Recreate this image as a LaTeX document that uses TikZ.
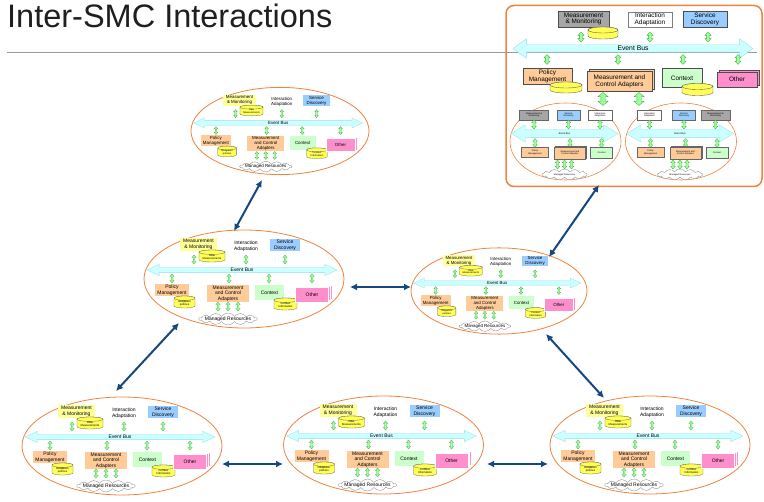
\documentclass[tikz,border=0pt]{standalone}
\usepackage{fontspec}
\setmainfont{Liberation Sans}
\usetikzlibrary{shapes.geometric,shapes.arrows,shapes.symbols,shadows,arrows.meta,calc}
\definecolor{mmY}{HTML}{FFFF99}
\definecolor{cylY}{HTML}{FFFF55}
\definecolor{sdB}{HTML}{99CCFF}
\definecolor{pmO}{HTML}{FFCC99}
\definecolor{cxG}{HTML}{CCFFCC}
\definecolor{otP}{HTML}{FF8FCC}
\definecolor{busC}{HTML}{CCFFFF}
\definecolor{busD}{HTML}{99DDEE}
\definecolor{garF}{HTML}{99FF99}
\definecolor{garD}{HTML}{44AA44}
\definecolor{orgE}{HTML}{F0823C}
\definecolor{connB}{RGB}{22,72,128}
\definecolor{mmG}{HTML}{A6A6A6}
\newcommand\fs[2]{\fontsize{#1}{#2}\selectfont}
\tikzset{
 tx/.style={inner sep=0pt, align=center, font=\fs{5}{5.6}},
 ubox/.style={tx, rectangle},
 uell/.style={ellipse, draw=orgE, line width=0.8pt, minimum width=200pt, minimum height=98pt, inner sep=0pt},
 cylst/.style={draw=black!60, fill=cylY, line width=0.3pt},
 cyltx/.style={font=\fs{2.8}{3.2}},
 gar/.style={double arrow, rotate=90, fill=garF, draw=garD, line width=0.25pt, inner sep=0pt, text height=1.5pt, text depth=0pt, minimum height=9pt, double arrow head extend=1.2pt, double arrow tip angle=80},
 ubus/.style={double arrow, fill=busC, draw=busD, line width=0.3pt, inner sep=0pt, double arrow tip angle=50, text height=4.3pt, text depth=0.7pt, double arrow head extend=3pt, font=\fs{5}{5.6}},
 ucloud/.style={cloud, cloud puffs=14, cloud puff arc=110, aspect=4.8, draw=gray, fill=white, line width=0.3pt, inner sep=0pt, minimum width=58pt, minimum height=12pt},
 uother/.style={ubox, fill=otP, draw=white, line width=0.3pt, double copy shadow={shadow xshift=1.6pt, shadow yshift=1.2pt}},
 conn/.style={draw=connB, line width=2pt, arrows={Latex[length=7pt,width=7pt]-Latex[length=7pt,width=7pt]}},
 ibox/.style={inner sep=0pt, align=center, font=\fs{6.4}{6.9}, draw=black!70, line width=0.4pt},
 igar/.style={double arrow, rotate=90, fill=garF, draw=garD, line width=0.3pt, inner sep=0pt, text height=2.5pt, text depth=0pt, minimum height=10pt, double arrow head extend=1.7pt, double arrow tip angle=85},
 igarB/.style={igar, text height=4pt, minimum height=13pt, double arrow head extend=3pt, double arrow tip angle=100},
 ibus/.style={double arrow, fill=busC, draw=busD, line width=0.4pt, inner sep=0pt, double arrow tip angle=72, text height=6pt, text depth=1pt, double arrow head extend=6pt, font=\fs{6.8}{7.5}},
 sell/.style={ellipse, draw=orgE, line width=0.6pt, minimum width=111pt, minimum height=77pt, inner sep=0pt},
 sbox/.style={inner sep=0pt, align=center, font=\fs{2.3}{2.7}, draw=black!60, line width=0.3pt},
 sgray/.style={fill=mmG, minimum width=29pt, minimum height=10pt},
 sblue/.style={fill=sdB, minimum width=23pt, minimum height=10pt},
 swhite/.style={fill=white, minimum width=24pt, minimum height=10pt},
 sgar/.style={double arrow, rotate=90, fill=garF, draw=garD, line width=0.25pt, inner sep=0pt, text height=2pt, text depth=0pt, minimum height=9pt, double arrow head extend=1.2pt, double arrow tip angle=80},
 sbus/.style={double arrow, fill=busC, draw=busD, line width=0.3pt, inner sep=0pt, double arrow tip angle=62, text height=4.9pt, text depth=3.1pt, double arrow head extend=4.5pt, font=\fs{2.5}{3}},
 scloud/.style={cloud, cloud puffs=13, cloud puff arc=110, aspect=4, draw=gray, fill=white, line width=0.3pt, inner sep=0pt, minimum width=45pt, minimum height=11pt},
}
% cylinder: name, x, y, w, h, r, text, text style
\newcommand\cylnode[8]{%
\pgfmathsetmacro\cylrx{#4/2}%
\path[cylst] ({#2-#4/2},{#3-#5/2+#6}) -- ({#2-#4/2},{#3+#5/2-#6}) arc[start angle=180,end angle=360,x radius=\cylrx pt,y radius=#6pt] -- ({#2+#4/2},{#3-#5/2+#6}) arc[start angle=0,end angle=180,x radius=\cylrx pt,y radius=#6pt] -- cycle;
\path[cylst] ({#2},{#3-#5/2+#6}) ellipse[x radius=\cylrx pt,y radius=#6pt];
\node[#8,inner sep=0pt,align=center,minimum width=#4pt,minimum height=#5pt] (#1) at ({#2},{#3+#6/2}) {#7};
}
\newcommand\smcunit[4]{%
\begin{scope}[shift={(#2,#3)},scale=#4,transform shape]
\node[uell] (#1) at (0,0) {};
\node[ubox,fill=mmY,minimum width=37pt,minimum height=13pt] (#1mm) at (-45.5,-34.5) {Measurement\\\& Monitoring};
\cylnode{#1rm}{-32}{-23}{26}{12}{2.2}{Raw\\Measurements}{cyltx}
\node[ubox] (#1ia) at (2,-33) {Interaction\\Adaptation};
\node[ubox,fill=sdB,minimum width=30pt,minimum height=12pt] (#1sd) at (41,-34) {Service\\Discovery};
\node[gar] (#1ta) at (-50,-19.5) {};
\node[gar] (#1tb) at (2,-19.5) {};
\node[gar] (#1tc) at (41,-19.5) {};
\node[ubus,minimum height=190pt] (#1bus) at (-2,-9) {Event Bus};
\node[gar] (#1ba) at (-72,-0.5) {};
\node[gar] (#1bb) at (-15,-0.5) {};
\node[gar] (#1bc) at (25,-0.5) {};
\node[gar] (#1bd) at (68,-0.5) {};
\node[ubox,fill=pmO,minimum width=34pt,minimum height=12pt] (#1pm) at (-72,11) {Policy\\Management};
\cylnode{#1op}{-59.5}{23}{21}{12}{2.2}{Obligation\\policies}{cyltx}
\node[ubox,fill=pmO,minimum width=42pt,minimum height=17pt] (#1mc) at (-16,14.5) {Measurement\\and Control\\Adapters};
\node[gar] (#1ca) at (-26,27.5) {};
\node[gar] (#1cb) at (-16,27.5) {};
\node[gar] (#1cc) at (-6,27.5) {};
\node[ucloud,label={[tx]center:Managed Resources}] (#1mr) at (-16,40) {};
\node[ubox,fill=cxG,minimum width=29pt,minimum height=15pt] (#1cx) at (25.5,13.5) {Context};
\cylnode{#1ci}{41.5}{25}{23}{12}{2.2}{Context\\Information}{cyltx}
\node[uother,minimum width=33pt,minimum height=14.5pt] (#1ot) at (68,15.5) {Other};
\end{scope}}
\newcommand\subsmc[9]{%
\begin{scope}[shift={(#2,#3)}]
\node[sell] (#1) at (0,0) {};
\node[sbox,#4] (#1ta) at (-31.5,-26.5) {#5};
\node[sbox,#6] (#1tb) at (3,-26.5) {#7};
\node[sbox,#8] (#1tc) at (34.5,-26.5) {#9};
\node[sgar] (#1aa) at (-31.5,-17) {};
\node[sgar] (#1ab) at (3,-17) {};
\node[sgar] (#1ac) at (34.5,-17) {};
\node[sbus,minimum height=107pt] (#1bus) at (-1,-8) {Event Bus};
\node[sgar] (#1ba) at (-30.5,1.5) {};
\node[sgar] (#1bb) at (4.5,1.5) {};
\node[sgar] (#1bc) at (36,1.5) {};
\node[sbox,fill=pmO,minimum width=27pt,minimum height=10pt] (#1pm) at (-30.5,11) {Policy\\Management};
\node[sbox,fill=pmO,copy shadow={shadow xshift=1pt,shadow yshift=1pt},minimum width=31pt,minimum height=12pt] (#1mc) at (4.5,11.5) {Measurement and\\Control Adapters};
\node[sbox,fill=cxG,minimum width=22pt,minimum height=11pt] (#1cx) at (36,11) {Context};
\node[sgar] (#1ca) at (-8,23) {};
\node[sgar] (#1cb) at (-1,23) {};
\node[sgar] (#1cc) at (6,23) {};
\node[scloud,label={[font=\fs{2.3}{2.7},inner sep=0pt]center:Managed Resources}] (#1mr) at (-1,33) {};
\end{scope}}
\begin{document}
\begin{tikzpicture}[x=1pt,y=-1pt]
\useasboundingbox (0,0) rectangle (764,502);
% title
\node[anchor=base west, inner sep=0pt, font=\fs{32.5}{36}, text=black!88] (title) at (7,28) {Inter-SMC Interactions};
\coordinate (rl) at (7,52);
\coordinate (rr) at (757,52);
\draw[black!40, line width=0.8pt] (rl) -- (rr);
% units
\smcunit{U1}{280}{131}{0.89}
\smcunit{U2}{244}{279}{1}
\smcunit{U3}{499}{291}{0.88}
\smcunit{U4}{122}{446}{1}
\smcunit{U5}{383.5}{445}{1}
\smcunit{U6}{650}{445}{1}
% inset
\node[draw=orgE, line width=1.5pt, rounded corners=8pt, minimum width=256pt, minimum height=181pt, inner sep=0pt] (inset) at (634,96) {};
\node[ibox,fill=mmG,minimum width=51pt,minimum height=16pt] (imm) at (583.5,19) {Measurement\\\& Monitoring};
\begin{scope}[cylst/.append style={line width=0.4pt}]
\cylnode{immc}{603}{33}{30}{12}{3}{}{cyltx}
\end{scope}
\node[ibox,fill=white,draw=gray,minimum width=44pt,minimum height=15pt] (iia) at (650,19.5) {Interaction\\Adaptation};
\node[ibox,fill=sdB,minimum width=44pt,minimum height=16pt] (isd) at (705,19) {Service\\Discovery};
\node[igar] (ita) at (581,37) {};
\node[igar] (itb) at (650,37) {};
\node[igar] (itc) at (708,37) {};
\node[ibus,minimum height=240pt] (ibus) at (633,48.5) {Event Bus};
\node[igar] (iba) at (547,59.5) {};
\node[igar] (ibb) at (618,59.5) {};
\node[igar] (ibc) at (683,59.5) {};
\node[igar] (ibd) at (738,59.5) {};
\node[ibox,fill=pmO,minimum width=49pt,minimum height=16pt] (ipm) at (547.5,76) {Policy\\Management};
\begin{scope}[cylst/.append style={line width=0.4pt}]
\cylnode{ipmc}{566}{87.5}{32}{11}{3}{}{cyltx}
\end{scope}
\node[ibox,fill=pmO,copy shadow={shadow xshift=2pt,shadow yshift=2pt},minimum width=65pt,minimum height=20pt] (imc) at (619.5,81) {Measurement and\\Control Adapters};
\node[ibox,fill=cxG,minimum width=40pt,minimum height=19pt] (icx) at (682,78) {Context};
\begin{scope}[cylst/.append style={line width=0.4pt}]
\cylnode{icxc}{697.5}{89.5}{31}{12}{3}{}{cyltx}
\end{scope}
\node[ibox,fill=otP,copy shadow={shadow xshift=2pt,shadow yshift=2pt},minimum width=40pt,minimum height=15pt] (iot) at (737,79.5) {Other};
\node[igarB] (ima) at (603,99) {};
\node[igarB] (imb) at (639,99) {};
\subsmc{SL}{565.5}{141.5}{sgray}{Measurement \&\\Monitoring}{sblue}{Service\\Discovery}{swhite}{Interaction\\Adaptation}
\subsmc{SR}{681}{141.5}{swhite}{Interaction\\Adaptation}{sblue}{Service\\Discovery}{sgray}{Measurement \&\\Monitoring}
% connectors
\draw[conn] ($(U1)+(-18,49)$) -- ($(U2)+(-10,-48)$);
\draw[conn] ($(U2)+(106,8)$) -- ($(U3)+(-88,-4)$);
\draw[conn] ($(U2)+(-65,44)$) -- ($(U4)+(-6,-55)$);
\draw[conn] ($(U4)+(100,18)$) -- ($(U5)+(-100.5,19)$);
\draw[conn] ($(U5)+(103.5,19)$) -- ($(U6)+(-102,19)$);
\draw[conn] ($(U3)+(47,43)$) -- ($(U6)+(-46,-47)$);
\draw[conn] ($(U3)+(50,-34)$) -- ($(inset)+(-35,89)$);
\end{tikzpicture}
\end{document}
